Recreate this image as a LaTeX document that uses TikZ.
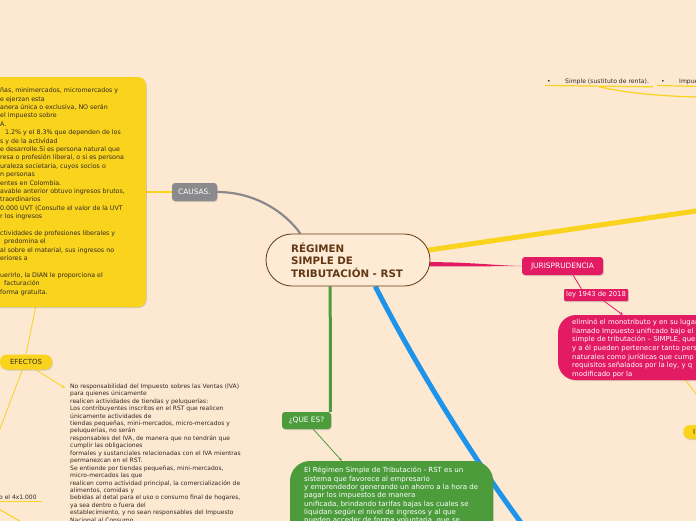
\documentclass[tikz,border=0pt]{standalone}
\usepackage{fontspec}
\setmainfont{DejaVu Sans}
\usetikzlibrary{shadows,arrows.meta,shapes.misc,calc}
\pgfdeclarelayer{bgl}
\pgfdeclarelayer{edges}
\pgfsetlayers{bgl,edges,main}
\definecolor{bg}{RGB}{253,232,209}
\definecolor{cfill}{RGB}{254,235,214}
\definecolor{myyellow}{RGB}{249,211,28}
\definecolor{mypink}{RGB}{227,27,98}
\definecolor{mygreen}{RGB}{76,156,60}
\definecolor{myblue}{RGB}{30,147,234}
\definecolor{mygray}{RGB}{138,138,140}
\definecolor{mybrown}{RGB}{98,56,20}
\definecolor{dtext}{RGB}{50,42,36}
\newcommand\myfs[2]{\fontsize{#1}{#2}\selectfont}
\newcommand\fl{\rule{0pt}{1em}}
\begin{document}
\begin{tikzpicture}[x=1pt,y=-1pt,
  shad/.style={drop shadow={shadow xshift=0.8pt,shadow yshift=-1pt,opacity=0.3}},
  tag/.style={rectangle, rounded corners=3pt, inner sep=0pt, text=white, font=\myfs{7.4}{9}, shad},
  txt/.style={inner sep=0pt, align=left, anchor=north west},
  arr/.style={-{Stealth[length=3pt,width=3pt]}},
]
\useasboundingbox (0,0) rectangle (696,520);
\begin{pgfonlayer}{bgl}
\fill[bg] (-2,-2) rectangle (698,522);
\end{pgfonlayer}

% ---------- nodes ----------
\node[rounded rectangle, draw=mybrown, line width=0.8pt, fill=cfill, minimum width=164pt, minimum height=52pt, inner sep=0pt] (center) at (348,260) {};
\node[txt, font=\bfseries\myfs{10.3}{12.5}, text=mybrown] (ctitle) at (291,241.7) {\fl RÉGIMEN\\SIMPLE DE\\TRIBUTACIÓN - RST};

\node[rectangle, rounded corners=8pt, fill=myyellow, minimum width=176pt, minimum height=230pt, inner sep=0pt, shad] (cbox) at (58,192) {};
\node[txt, font=\myfs{6.3}{8.4}, text=dtext] (ctext) at (0,86.2) {\fl ñas, minimercados, micromercados y\\e ejerzan esta\\anera única o exclusiva, NO serán\\el impuesto sobre\\A.\\\hspace*{5pt}1.2\% y el 8.3\% que dependen de los\\s y de la actividad\\e desarrolle.Si es persona natural que\\resa o profesión liberal, o si es persona\\uraleza societaria, cuyos socios o\\n personas\\entes en Colombia.\\avable anterior obtuvo ingresos brutos,\\traordinarios\\0.000 UVT (Consulte el valor de la UVT\\r los ingresos\\\mbox{}\\ctividades de profesiones liberales y\\\hspace*{4pt}predomina el\\al sobre el material, sus ingresos no\\eriores a\\\mbox{}\\uerirlo, la DIAN le proporciona el\\\hspace*{4pt}facturación\\forma gratuita.};

\node[tag, fill=mygray, minimum width=45pt, minimum height=18pt] (causas) at (194.5,192) {CAUSAS.};
\node[tag, fill=mypink, minimum width=81pt, minimum height=18pt] (juris) at (562.5,266) {JURISPRUDENCIA};
\node[tag, rounded corners=1pt, fill=mypink, minimum width=64pt, minimum height=12pt, font=\myfs{6.8}{8}] (ley) at (596,295) {ley 1943 de 2018};

\node[rectangle, rounded corners=18pt, fill=mypink, minimum width=202pt, minimum height=65pt, inner sep=0pt, shad] (pbox) at (659,347.5) {};
\node[txt, font=\myfs{6.9}{8.6}, text=white] (ptext) at (572,317.6) {\fl eliminó el monotributo y en su lugar\\llamado Impuesto unificado bajo el\\simple de tributación – SIMPLE, que\\y a él pueden pertenecer tanto pers\\naturales como jurídicas que cump\\requisitos señalados por la ley, y q\\modificado por la};

\node[rectangle, rounded corners=7pt, fill=myyellow, minimum width=40pt, minimum height=14pt, inner sep=0pt, shad, anchor=west] (ry) at (683,432) {};
\node[inner sep=0pt, anchor=west, font=\myfs{7}{8}, text=dtext] (rytext) at (693,432) {I};

\node[tag, fill=mygreen, minimum width=49pt, minimum height=17pt] (quees) at (306.5,420.5) {¿QUE ES?};
\node[rectangle, rounded corners=20pt, fill=mygreen, minimum width=203pt, minimum height=99pt, inner sep=0pt, shad] (gbox) at (391.5,510.5) {};
\node[txt, font=\myfs{7.0}{8.35}, text=white] (gtext) at (304,465.5) {\fl El Régimen Simple de Tributación - RST es un\\sistema que favorece al empresario\\y emprendedor generando un ahorro a la hora de\\pagar los impuestos de manera\\unificada, brindando tarifas bajas las cuales se\\liquidan según el nivel de ingresos y al que\\pueden acceder de forma voluntaria, que se};

\node[rectangle, rounded corners=7pt, fill=myyellow, minimum width=52pt, minimum height=15pt, inner sep=0pt, font=\myfs{7}{8}, text=dtext, shad] (efectos) at (26,362) {EFECTOS};

\node[txt, font=\myfs{6.0}{7.45}, text=dtext] (noresp) at (70,382) {\fl No responsabilidad del Impuesto sobres las Ventas (IVA)\\para quienes únicamente\\realicen actividades de tiendas y peluquerías:\\Los contribuyentes inscritos en el RST que realicen\\únicamente actividades de\\tiendas pequeñas, mini-mercados, micro-mercados y\\peluquerías, no serán\\responsables del IVA, de manera que no tendrán que\\cumplir las obligaciones\\formales y sustanciales relacionadas con el IVA mientras\\permanezcan en el RST.\\Se entiende por tiendas pequeñas, mini-mercados,\\micro-mercados las que\\realicen como actividad principal, la comercialización de\\alimentos, comidas y\\bebidas al detal para el uso o consumo final de hogares,\\ya sea dentro o fuera del\\establecimiento, y no sean responsables del Impuesto\\Nacional al Consumo};

\node[txt, font=\myfs{6.0}{7}, text=dtext] (gmf) at (-1,493) {\fl o el 4x1.000};

\node[txt, font=\myfs{6.1}{7}, text=dtext] (bul1) at (547,77) {\fl •};
\node[txt, font=\myfs{6.1}{7}, text=dtext] (simple) at (565,77) {\fl Simple (sustituto de renta).};
\node[txt, font=\myfs{6.1}{7}, text=dtext] (bul2) at (661,77) {\fl •};
\node[txt, font=\myfs{6.1}{7}, text=dtext] (impu) at (679,77) {\fl Impuesto};

\coordinate (ytop) at (700,210.4);
\coordinate (bend) at (522,524);
\coordinate (pyl) at (710,412);
\coordinate (efl) at (-5,442);
\coordinate (bl1) at (-10,504);
\coordinate (bl2) at (30,527);
\coordinate (tr1) at (700,97);

% ---------- connectors ----------
\begin{pgfonlayer}{edges}
\draw[mygray, line width=2.2pt] (causas.east) .. controls (255,192) and (285,212) .. (center.151);
\draw[myyellow, line width=5pt] (center.7) -- (ytop);
\fill[mypink] ($(center.-3)+(-4,-2.2)$) .. controls (470,262) and (495,265.5) .. (juris.west) .. controls (495,266.5) and (470,266) .. ($(center.-3)+(-4,2.2)$) -- cycle;
\draw[mypink, line width=0.8pt] (juris.-41) -- (ley.157);
\draw[mypink, line width=0.8pt, arr] (ley.-37) -- (pbox.138.7);
\draw[myyellow, line width=0.8pt] (pbox.-51.3) -- (pyl);
\draw[mygreen, line width=3pt] (center.-124.7) -- (quees.20.7);
\draw[mygreen, line width=0.8pt, arr] (quees.-52.6) -- (gbox.135.6);
\draw[myblue, line width=5pt] (center.-44) .. controls (405,345) and (460,440) .. (bend);
\draw[myyellow, line width=1.2pt] (cbox.east) -- (causas.west);
\draw[myyellow, line width=0.8pt] (cbox.-101.3) -- (efectos.north);
\draw[myyellow, line width=0.8pt, arr] (efectos.-38) -- ($(noresp.north west)+(-5,6)$);
\draw[myyellow, line width=0.8pt] (efectos.-115) -- (efl);
\draw[myyellow, line width=1pt] ($(gmf.south west)+(-4,2)$) -- ($(gmf.south east)+(5,2)$);
\draw[myyellow, line width=1pt] (bl1) -- (bl2);
\draw[myyellow, line width=1.2pt] ($(bul1.south west)+(-2,2)$) -- ($(simple.south east)+(4,2)$);
\draw[myyellow, line width=1.2pt] ($(bul2.south west)+(-4,2)$) -- ($(impu.south east)+(4,2)$);
\draw[myyellow, line width=1.2pt] ($(simple.south)+(-8,2)$) .. controls (630,94) and (670,96.5) .. (tr1);
\end{pgfonlayer}
\end{tikzpicture}
\end{document}
